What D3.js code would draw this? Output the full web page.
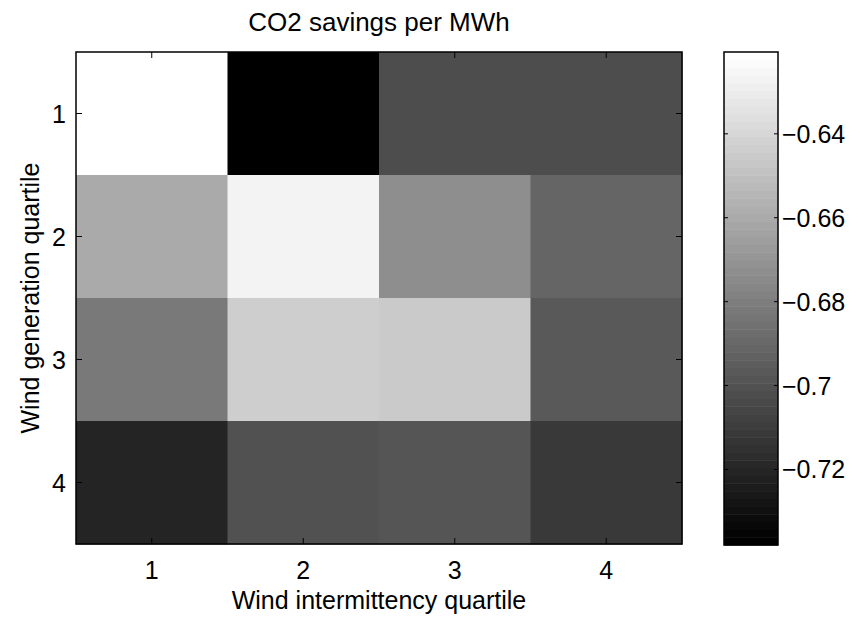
<!DOCTYPE html>
<html>
<head>
<meta charset="utf-8">
<script src="https://cdn.jsdelivr.net/npm/d3@7"></script>
<style>
  html, body { margin: 0; padding: 0; background: #fff; }
  svg { display: block; }
  svg text { font-family: "Liberation Sans", Arial, Helvetica, sans-serif; font-size: 25px; fill: #000; }
  svg text.title { font-size: 26px; }
</style>
</head>
<body>
<svg id="chart" width="857" height="619"></svg>
<script>
// Wind intermittency quartiles (columns) and wind generation quartiles (rows)
const intermittencyQuartiles = [1, 2, 3, 4];
const generationQuartiles = [1, 2, 3, 4];

// CO2 savings per MWh, one array per generation quartile (row)
const row1 = [-0.6205, -0.7380, -0.7025, -0.7025];
const row2 = [-0.6601, -0.6265, -0.6726, -0.6910];
const row3 = [-0.6818, -0.6431, -0.6449, -0.6965];
const row4 = [-0.7214, -0.7011, -0.6984, -0.7122];
const savingsRows = [row1, row2, row3, row4];

const colorbarTicks = [-0.64, -0.66, -0.68, -0.70, -0.72];
const colorLevels = 64;

const svg = d3.select("#chart");
const plot = { left: 76, right: 682, top: 52, bottom: 544 };
const bar = { left: 724, right: 778, top: 52, bottom: 545 };

const x = d3.scaleBand().domain(intermittencyQuartiles).range([plot.left, plot.right]);
const y = d3.scaleBand().domain(generationQuartiles).range([plot.top, plot.bottom]);

const allValues = savingsRows.flat();
const vMin = d3.min(allValues), vMax = d3.max(allValues);

// 64-step gray colormap, black at the minimum, white at the maximum
const levelIndex = v => Math.min(colorLevels - 1, Math.floor((v - vMin) / (vMax - vMin) * colorLevels));
const levelGray = i => { const g = Math.round(i / (colorLevels - 1) * 255); return `rgb(${g},${g},${g})`; };
const color = v => levelGray(levelIndex(v));

// heatmap cells
const cells = [];
savingsRows.forEach((row, ri) => row.forEach((v, ci) => cells.push({ r: generationQuartiles[ri], c: intermittencyQuartiles[ci], v })));
svg.append("g").selectAll("rect").data(cells).join("rect")
  .attr("x", d => x(d.c)).attr("y", d => y(d.r))
  .attr("width", x.bandwidth() + 0.5).attr("height", y.bandwidth() + 0.5)
  .attr("fill", d => color(d.v));

const tickLen = 6;

// frame and inward ticks
const frame = svg.append("g").attr("stroke", "#000").attr("fill", "none");
frame.append("rect").attr("x", plot.left).attr("y", plot.top)
  .attr("width", plot.right - plot.left).attr("height", plot.bottom - plot.top).attr("stroke-width", 1.5);
intermittencyQuartiles.forEach(q => {
  const cx = x(q) + x.bandwidth() / 2;
  frame.append("line").attr("x1", cx).attr("x2", cx).attr("y1", plot.bottom).attr("y2", plot.bottom - tickLen);
  frame.append("line").attr("x1", cx).attr("x2", cx).attr("y1", plot.top).attr("y2", plot.top + tickLen);
});
generationQuartiles.forEach(q => {
  const cy = y(q) + y.bandwidth() / 2;
  frame.append("line").attr("y1", cy).attr("y2", cy).attr("x1", plot.left).attr("x2", plot.left + tickLen);
  frame.append("line").attr("y1", cy).attr("y2", cy).attr("x1", plot.right).attr("x2", plot.right - tickLen);
});

// tick labels
svg.append("g").selectAll("text").data(intermittencyQuartiles).join("text")
  .attr("x", d => x(d) + x.bandwidth() / 2).attr("y", plot.bottom + 35)
  .attr("text-anchor", "middle").text(d => d);
svg.append("g").selectAll("text").data(generationQuartiles).join("text")
  .attr("x", plot.left - 10).attr("y", d => y(d) + y.bandwidth() / 2 + 9)
  .attr("text-anchor", "end").text(d => d);

// title and axis labels
svg.append("text").attr("class", "title").attr("x", (plot.left + plot.right) / 2).attr("y", 31)
  .attr("text-anchor", "middle").text("CO2 savings per MWh");
svg.append("text").attr("x", (plot.left + plot.right) / 2).attr("y", 609)
  .attr("text-anchor", "middle").text("Wind intermittency quartile");
svg.append("text").attr("transform", `translate(39,${(plot.top + plot.bottom) / 2}) rotate(-90)`)
  .attr("text-anchor", "middle").text("Wind generation quartile");

// colorbar
const cScale = d3.scaleLinear().domain([vMin, vMax]).range([bar.bottom, bar.top]);
const levels = d3.range(colorLevels);
const stepH = (bar.bottom - bar.top) / colorLevels;
svg.append("g").selectAll("rect").data(levels).join("rect")
  .attr("x", bar.left).attr("width", bar.right - bar.left)
  .attr("y", i => bar.bottom - (i + 1) * stepH).attr("height", stepH + 0.5)
  .attr("fill", i => levelGray(i));
const cb = svg.append("g").attr("stroke", "#000").attr("fill", "none");
cb.append("rect").attr("x", bar.left).attr("y", bar.top)
  .attr("width", bar.right - bar.left).attr("height", bar.bottom - bar.top).attr("stroke-width", 1.5);
colorbarTicks.forEach(t => {
  const ty = cScale(t);
  cb.append("line").attr("x1", bar.left).attr("x2", bar.left + 4).attr("y1", ty).attr("y2", ty);
  cb.append("line").attr("x1", bar.right).attr("x2", bar.right - 4).attr("y1", ty).attr("y2", ty);
});
svg.append("g").selectAll("text").data(colorbarTicks).join("text")
  .attr("x", bar.right + 4).attr("y", t => cScale(t) + 9)
  .text(t => "\u2212" + String(+Math.abs(t).toFixed(2)));
</script>
</body>
</html>
